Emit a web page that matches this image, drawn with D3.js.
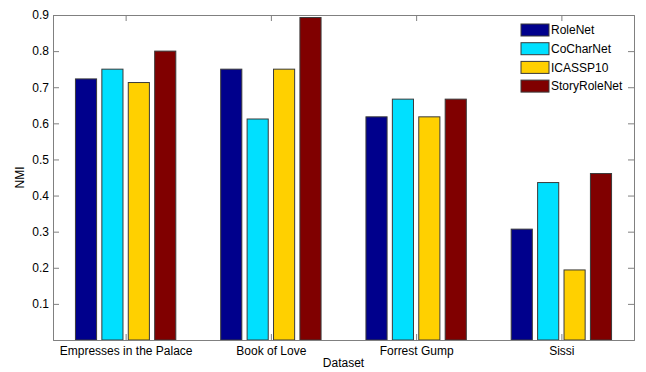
<!DOCTYPE html>
<html>
<head>
<meta charset="utf-8">
<script src="https://cdn.jsdelivr.net/npm/d3@7"></script>
<style>
  body { margin: 0; background: #fff; }
  svg text { font-family: "Liberation Sans", Arial, sans-serif; font-size: 12px; }
</style>
</head>
<body>
<svg id="canvas" width="646" height="372"></svg>
<script>
let datasets = ["Empresses in the Palace", "Book of Love", "Forrest Gump", "Sissi"];
let methods = ["RoleNet", "CoCharNet", "ICASSP10", "StoryRoleNet"];
let roleNet = [0.723, 0.750, 0.618, 0.307];
let coCharNet = [0.750, 0.612, 0.667, 0.436];
let icassp10 = [0.713, 0.750, 0.618, 0.194];
let storyRoleNet = [0.800, 0.893, 0.667, 0.461];
let yTicks = [0.1, 0.2, 0.3, 0.4, 0.5, 0.6, 0.7, 0.8, 0.9];
let colors = ["#00008c", "#00e0ff", "#ffd000", "#800000"];

let series = [roleNet, coCharNet, icassp10, storyRoleNet];

let plotLeft = 53, plotRight = 634, plotTop = 15, plotBottom = 340;
let canvas = d3.select("#canvas");

// matlab style: groups at 1..n, xlim [0.5, n+0.5]
let x = d3.scaleLinear().domain([0.5, datasets.length + 0.5]).range([plotLeft, plotRight]);
let y = d3.scaleLinear().domain([0, 0.9]).range([plotBottom, plotTop]);

let groupWidth = Math.min(0.8, methods.length / (methods.length + 1.5));
let step = groupWidth / methods.length;
let barW = x(step * 0.8) - x(0);

let bars = [];
datasets.forEach((d, i) => {
    series.forEach((s, j) => {
        let cx = (i + 1) - groupWidth / 2 + step * (j + 0.5);
        bars.push({cx: cx, v: s[i], color: colors[j]});
    });
});

canvas.append("g")
    .selectAll("rect")
    .data(bars)
    .enter()
    .append("rect")
    .attr("x", (d) => x(d.cx) - barW / 2)
    .attr("y", (d) => y(d.v))
    .attr("width", barW)
    .attr("height", (d) => y(0) - y(d.v))
    .attr("fill", (d) => d.color)
    .attr("stroke", "#3a3a3a")
    .attr("stroke-width", 1);

// box and ticks (inward)
let tickLen = 6;
let axisColor = "#808080";

let yAxis = d3.axisLeft(y).tickValues(yTicks).tickSize(-tickLen).tickPadding(4).tickFormat(d3.format(".1f"));
let gy = canvas.append("g").attr("transform", `translate(${plotLeft},0)`).call(yAxis);
let yAxisR = d3.axisRight(y).tickValues(yTicks).tickSize(-tickLen).tickFormat("");
let gyr = canvas.append("g").attr("transform", `translate(${plotRight},0)`).call(yAxisR);

let xAxis = d3.axisBottom(x).tickValues(d3.range(1, datasets.length + 1)).tickSize(-tickLen).tickPadding(5)
    .tickFormat((d) => datasets[d - 1]);
let gx = canvas.append("g").attr("transform", `translate(0,${plotBottom})`).call(xAxis);
let xAxisT = d3.axisTop(x).tickValues(d3.range(1, datasets.length + 1)).tickSize(-tickLen).tickFormat("");
let gxt = canvas.append("g").attr("transform", `translate(0,${plotTop})`).call(xAxisT);

[gy, gyr, gx, gxt].forEach((g) => {
    g.select(".domain").attr("stroke", axisColor);
    g.selectAll(".tick line").attr("stroke", axisColor);
    g.selectAll("text").attr("fill", "#000").style("font-size", "12px")
        .style("font-family", "'Liberation Sans', Arial, sans-serif");
});
gx.selectAll(".tick text").attr("dy", "0.85em");

canvas.append("text")
    .attr("x", (plotLeft + plotRight) / 2)
    .attr("y", 367)
    .attr("text-anchor", "middle")
    .text("Dataset");

canvas.append("text")
    .attr("transform", `translate(24,${(plotTop + plotBottom) / 2}) rotate(-90)`)
    .attr("text-anchor", "middle")
    .text("NMI");

// legend
let legend = canvas.append("g").attr("id", "legend");
let legendRows = legend.selectAll("g")
    .data(methods)
    .enter()
    .append("g")
    .attr("transform", (d, i) => `translate(521,${30 + i * 18.7})`);
legendRows.append("rect")
    .attr("x", 0)
    .attr("y", -6)
    .attr("width", 28)
    .attr("height", 12)
    .attr("fill", (d, i) => colors[i])
    .attr("stroke", "#3a3a3a");
legendRows.append("text")
    .attr("x", 30)
    .attr("y", 0)
    .attr("dy", "0.35em")
    .text((d) => d);
</script>
</body>
</html>
